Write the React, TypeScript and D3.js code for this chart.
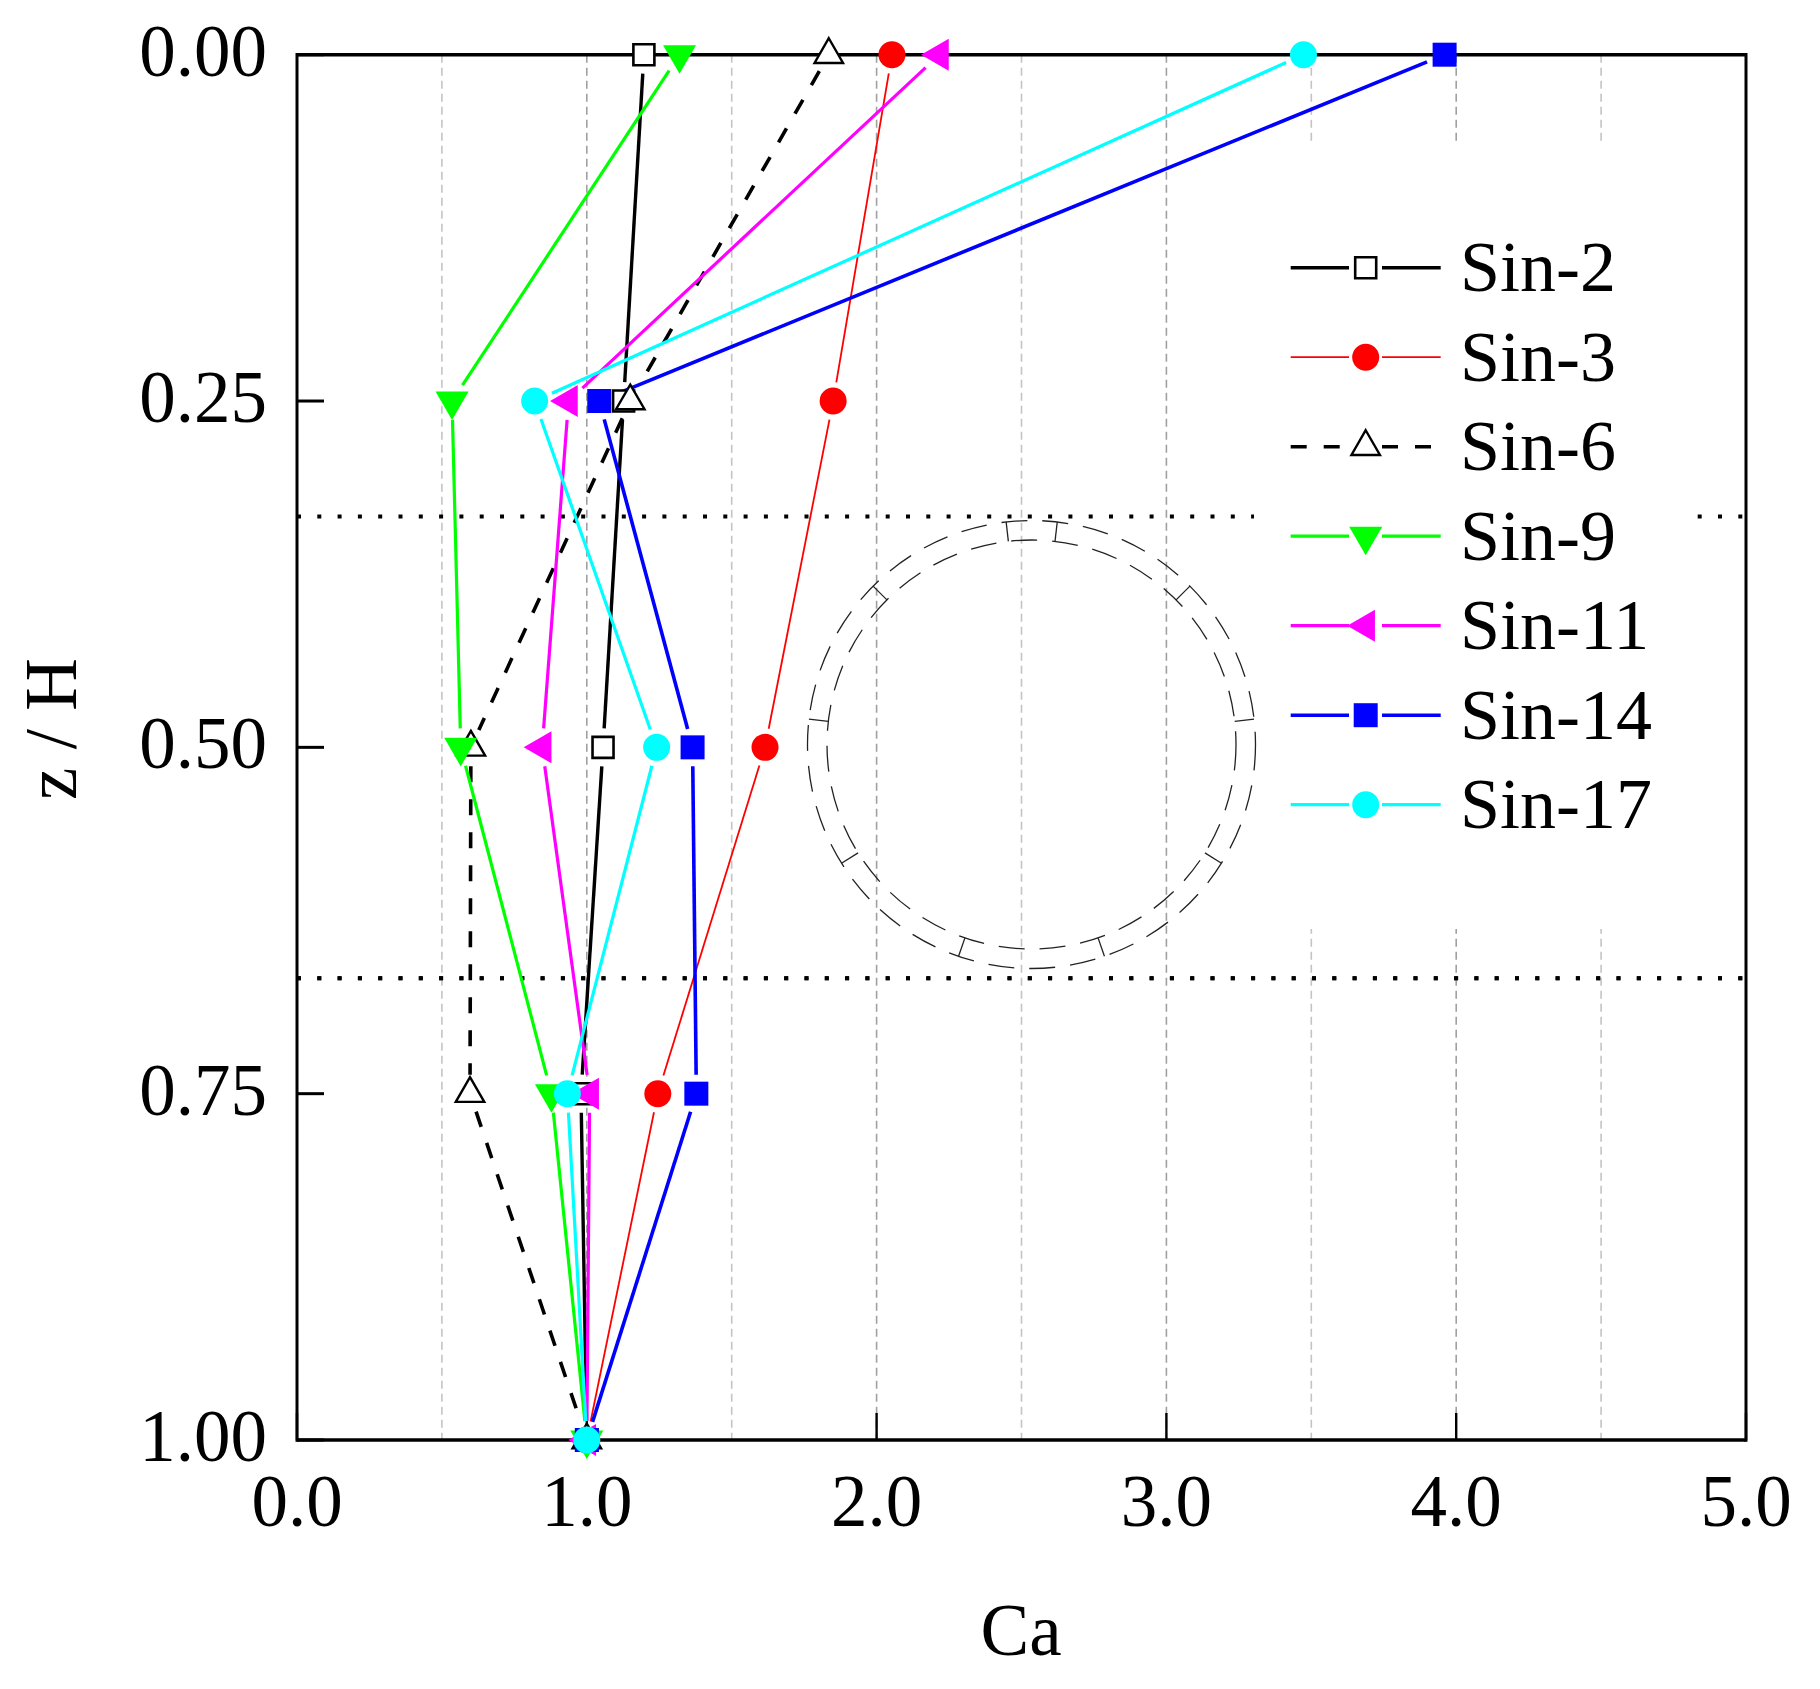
import React from "react";
import * as d3 from "d3";

const zLevels = [0, 0.25, 0.5, 0.75, 1];
const sin2 = [1.197, 1.127, 1.056, 0.98, 1];
const sin3 = [2.053, 1.85, 1.615, 1.245, 1];
const sin6 = [1.835, 1.15, 0.6, 0.597, 1];
const sin9 = [1.32, 0.535, 0.565, 0.878, 1];
const sin11 = [2.217, 0.937, 0.846, 1.01, 1];
const sin14 = [3.96, 1.043, 1.365, 1.378, 1];
const sin17 = [3.473, 0.82, 1.241, 0.933, 1];

const seriesNames = ["Sin-2", "Sin-3", "Sin-6", "Sin-9", "Sin-11", "Sin-14", "Sin-17"];
const seriesValues = [sin2, sin3, sin6, sin9, sin11, sin14, sin17];
const seriesColors = ["#000000", "#ff0000", "#000000", "#00ff00", "#ff00ff", "#0000ff", "#00ffff"];
const seriesWidths = [3.4, 1.8, 3.6, 3.2, 3.2, 3.6, 3.2];
const seriesDash = ["", "", "16 17", "", "", "", ""];
const seriesShapes = ["openSquare", "circle", "openTriangle", "down", "left", "square", "circle"];

const xTicks = [0, 1, 2, 3, 4, 5];
const xGrid = [0.5, 1, 1.5, 2, 2.5, 3, 3.5, 4, 4.5];
const zTicks = [0, 0.25, 0.5, 0.75, 1];
const sectionLines = [1 / 3, 2 / 3];
const ribAngles = [-96.5, -83.4, -45, -6.5, 32, 71, 109, 148, 186.5, 225];

const FONT = "'Liberation Serif', 'Times New Roman', serif";
const W = 1820;
const H = 1689;
const x = d3.scaleLinear().domain([0, 5]).range([297, 1746]);
const y = d3.scaleLinear().domain([0, 1]).range([54.7, 1440]);

const GAP = 19;
const segment = d3.line();

function shortened(a: [number, number], b: [number, number], gap: number): [number, number][] {
  const dx = b[0] - a[0];
  const dy = b[1] - a[1];
  const len = Math.hypot(dx, dy);
  if (len <= gap * 2) return [];
  const ux = dx / len;
  const uy = dy / len;
  return [
    [a[0] + ux * gap, a[1] + uy * gap],
    [b[0] - ux * gap, b[1] - uy * gap],
  ];
}

function Marker({ shape, color, cx, cy }: { shape: string; color: string; cx: number; cy: number }) {
  const t = `translate(${cx},${cy})`;
  if (shape === "circle") {
    return <path d={d3.symbol(d3.symbolCircle, Math.PI * 13.5 * 13.5)() as string} transform={t} fill={color} />;
  }
  if (shape === "square") {
    return <path d={d3.symbol(d3.symbolSquare, 24 * 24)() as string} transform={t} fill={color} />;
  }
  if (shape === "openSquare") {
    return (
      <path d={d3.symbol(d3.symbolSquare, 21 * 21)() as string} transform={t} fill="#fff" stroke="#000" strokeWidth={2.6} />
    );
  }
  const tri = (side: number) => d3.symbol(d3.symbolTriangle, (side * side * Math.sqrt(3)) / 4)() as string;
  if (shape === "openTriangle") {
    return <path d={tri(28.5)} transform={t} fill="#fff" stroke="#000" strokeWidth={2.4} />;
  }
  if (shape === "down") {
    return <path d={tri(33)} transform={`${t} rotate(180)`} fill={color} />;
  }
  return <path d={tri(32)} transform={`${t} rotate(-90)`} fill={color} />;
}

const legendTop = 267.7;
const legendStep = 89.5;
const cx0 = 1031.5;
const cy0 = 744.5;
const rOuter = 224;
const rInner = 204.5;

export default function App() {
  const minorGrid = (v: number) => Math.abs(v - Math.round(v)) > 0.01;
  return (
    <svg width={W} height={H} viewBox={`0 0 ${W} ${H}`} style={{ position: "absolute", left: 0, top: 0, background: "#fff" }}>
      {xGrid.map((v) => (
        <line
          key={v}
          x1={x(v)}
          x2={x(v)}
          y1={y(0)}
          y2={y(1)}
          stroke={minorGrid(v) ? "#c4c4c4" : "#a0a0a0"}
          strokeWidth={1.6}
          strokeDasharray="8 5"
        />
      ))}
      {sectionLines.map((v) => (
        <line key={v} x1={x(0)} x2={x(5)} y1={y(v)} y2={y(v)} stroke="#000" strokeWidth={4} strokeDasharray="4 16.3" />
      ))}
      <rect x={1254} y={142} width={435} height={787} fill="#fff" />
      {sectionLines.slice(1).map((v) => (
        <line key={v} x1={x(0)} x2={x(5)} y1={y(v)} y2={y(v)} stroke="#000" strokeWidth={4} strokeDasharray="4 16.3" />
      ))}

      <g fill="none" stroke="#222" strokeWidth={1.3}>
        <circle cx={cx0} cy={cy0} r={rOuter} strokeDasharray="26 15" />
        <circle cx={cx0} cy={cy0} r={rInner} strokeDasharray="26 15" />
        {ribAngles.map((a) => {
          const r = (a * Math.PI) / 180;
          return (
            <line
              key={a}
              x1={cx0 + rInner * Math.cos(r)}
              y1={cy0 + rInner * Math.sin(r)}
              x2={cx0 + rOuter * Math.cos(r)}
              y2={cy0 + rOuter * Math.sin(r)}
            />
          );
        })}
      </g>

      <g stroke="#000">
        <line x1={x(0)} x2={x(5)} y1={y(0)} y2={y(0)} strokeWidth={3.4} />
        <line x1={x(0)} x2={x(5)} y1={y(1)} y2={y(1)} strokeWidth={3.6} />
        <line x1={x(0)} x2={x(0)} y1={y(0) - 1.7} y2={y(1) + 1.8} strokeWidth={3} />
        <line x1={x(5)} x2={x(5)} y1={y(0) - 1.7} y2={y(1) + 1.8} strokeWidth={3} />
        {zTicks.map((v) => (
          <line key={v} x1={x(0)} x2={x(0) + 27} y1={y(v)} y2={y(v)} strokeWidth={3} />
        ))}
        {xTicks.map((v) => (
          <line key={v} x1={x(v)} x2={x(v)} y1={y(1)} y2={y(1) - 27} strokeWidth={2.4} />
        ))}
      </g>

      <g fontFamily={FONT} fontSize={73} fill="#000">
        {zTicks.map((v) => (
          <text key={v} x={267} y={y(v) + 21} textAnchor="end">
            {v.toFixed(2)}
          </text>
        ))}
        {xTicks.map((v) => (
          <text key={v} x={x(v)} y={1525.7} textAnchor="middle">
            {v.toFixed(1)}
          </text>
        ))}
        <text x={1021} y={1654.7} textAnchor="middle">
          Ca
        </text>
        <text transform="translate(76,729) rotate(-90)" textAnchor="middle">
          z / H
        </text>
      </g>

      {seriesValues.map((vals, si) => (
        <g key={seriesNames[si]}>
          {vals.slice(0, -1).map((v, i) => {
            const pts = shortened([x(v), y(zLevels[i])], [x(vals[i + 1]), y(zLevels[i + 1])], GAP);
            return (
              <path
                key={i}
                d={segment(pts) ?? ""}
                fill="none"
                stroke={seriesColors[si]}
                strokeWidth={seriesWidths[si]}
                strokeDasharray={seriesDash[si] || undefined}
              />
            );
          })}
        </g>
      ))}
      {seriesValues.map((vals, si) => (
        <g key={seriesNames[si]}>
          {vals.map((v, i) => (
            <Marker key={i} shape={seriesShapes[si]} color={seriesColors[si]} cx={x(v)} cy={y(zLevels[i])} />
          ))}
        </g>
      ))}

      {seriesNames.map((name, si) => {
        const ly = legendTop + si * legendStep;
        const dashed = !!seriesDash[si];
        return (
          <g key={name}>
            <line x1={1290.7} x2={1349} y1={ly} y2={ly} stroke={seriesColors[si]} strokeWidth={seriesWidths[si]} strokeDasharray={seriesDash[si] || undefined} />
            <line x1={1382} x2={dashed ? 1432 : 1440.7} y1={ly} y2={ly} stroke={seriesColors[si]} strokeWidth={seriesWidths[si]} strokeDasharray={seriesDash[si] || undefined} />
            <Marker shape={seriesShapes[si]} color={seriesColors[si]} cx={1365.7} cy={ly} />
            <text x={1460} y={ly + 23.5} fontFamily={FONT} fontSize={72} fill="#000">
              {name}
            </text>
          </g>
        );
      })}
    </svg>
  );
}
